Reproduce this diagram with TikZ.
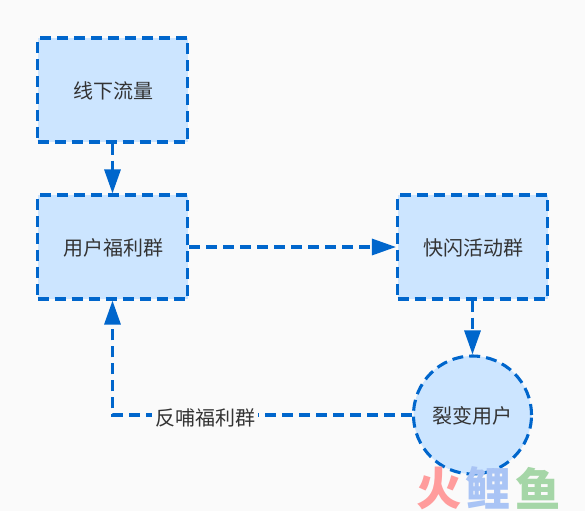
\documentclass[tikz,border=0pt]{standalone}
\usepackage{fontspec}
\newfontfamily\cjk{Noto Sans CJK SC}
\usetikzlibrary{arrows.meta}
\definecolor{ln}{HTML}{0066CC}
\definecolor{fl}{HTML}{CCE5FF}
\definecolor{bg}{HTML}{FAFAFA}
\definecolor{tx}{HTML}{333333}
\definecolor{wr}{HTML}{FF9C9C}
\definecolor{wb}{HTML}{A9C4F5}
\definecolor{wg}{HTML}{A5D6A7}
\tikzset{x=0.75pt,y=-0.75pt,
 lab/.style={text=tx,font=\cjk\fontsize{15pt}{17pt}\selectfont},
 boxn/.style={lab,draw=ln,fill=fl,line width=2.3pt,dash pattern=on 8.25pt off 4.5pt,minimum width=150*0.75pt,minimum height=104*0.75pt,inner sep=0pt,text depth=0pt},
 circn/.style={boxn,circle,minimum width=118*0.75pt,minimum height=118*0.75pt},
 conn/.style={draw=ln,line width=2.3pt,dash pattern=on 8.25pt off 4.5pt,-{Triangle[length=18pt,width=12pt,fill=ln,sep=0pt]}},
 mark text/.style={font=\cjk\bfseries\fontsize{34pt}{36pt}\selectfont}}
\begin{document}
\begin{tikzpicture}
\useasboundingbox[fill=bg] (0,0) rectangle (585,511);
\node[boxn] (a) at (112.5,90) {\raisebox{-0.75pt}{\hspace{0.75pt}线下流量}};
\node[boxn] (b) at (112.5,247) {\raisebox{-0.75pt}{\hspace{0.75pt}用户福利群}};
\node[boxn] (c) at (472.5,247) {\raisebox{-0.75pt}{\hspace{0.75pt}快闪活动群}};
\node[circn] (d) at (472.5,415) {\raisebox{-0.75pt}{裂变用户}};
\draw[conn] (a) -- (b);
\draw[conn] (b) -- (c);
\draw[conn] (c) -- (d);
\draw[conn] (d.west) -- (d.west -| b.south) -- (b.south);
\node[lab,fill=bg,inner xsep=2pt,inner ysep=1pt] (l) at (205,418) {反哺福利群};
\node[mark text,text=wr] (w1) at (439,488) {火};
\node[mark text,text=wb] (w2) at (488,488) {鲤};
\node[mark text,text=wg] (w3) at (538,488) {鱼};
\end{tikzpicture}
\end{document}
